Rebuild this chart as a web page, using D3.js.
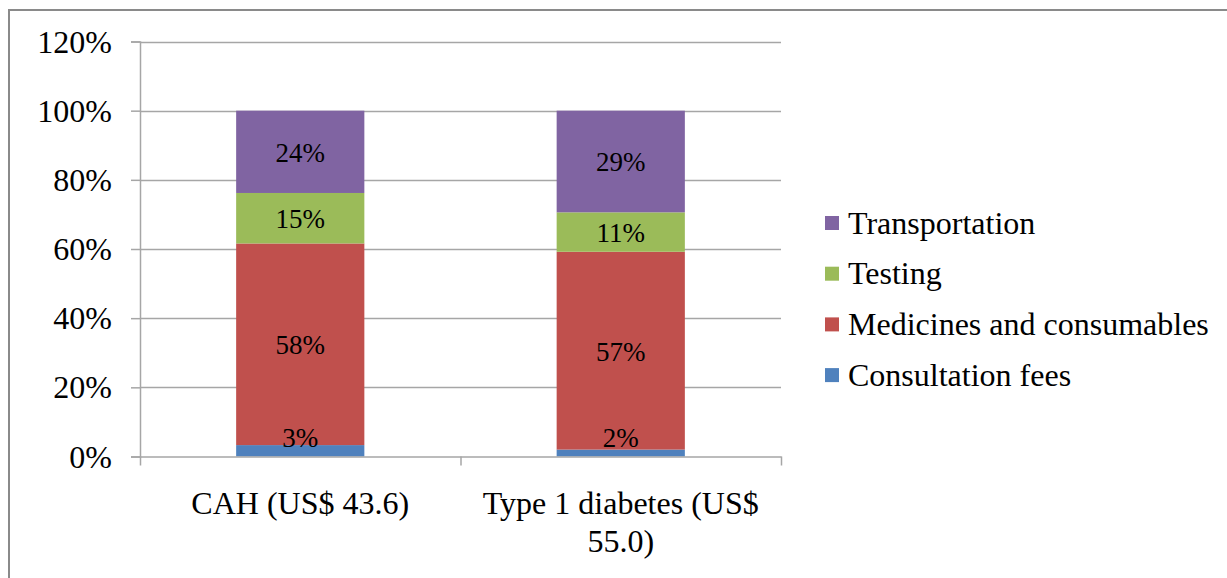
<!DOCTYPE html>
<html>
<head>
<meta charset="utf-8">
<script src="https://cdn.jsdelivr.net/npm/d3@7"></script>
<style>
  html, body { margin: 0; padding: 0; background: #fff; }
  svg { display: block; }
</style>
</head>
<body>
<svg id="chart" width="1227" height="578"></svg>
<script>
// Cost categories, bottom of the stack first
const seriesNames = ["Consultation fees", "Medicines and consumables", "Testing", "Transportation"];
const seriesColors = ["#4F81BD", "#C0504D", "#9BBB59", "#8064A2"];

// Conditions on the x axis (label lines)
const categories = ["CAH", "Type 1"];
const categoryLabels = [["CAH (US$ 43.6)"], ["Type 1 diabetes (US$", "55.0)"]];

// Share of total cost, percent
const consultation = [3.3, 2.0];
const medicines    = [58.3, 57.2];
const testing      = [14.6, 11.4];
const transport    = [23.8, 29.4];

const yTicks = [0, 20, 40, 60, 80, 100, 120];

const FONT = "Liberation Serif";
const svg = d3.select("#chart").attr("font-family", FONT);

// outer frame
svg.append("rect")
  .attr("x", 9).attr("y", 10)
  .attr("width", 1240).attr("height", 600)
  .attr("fill", "none")
  .attr("stroke", "#8a8a8a")
  .attr("stroke-width", 2);

const plot = { left: 140, right: 781, top: 41.5, bottom: 456.5 };

const x = d3.scaleBand()
  .domain(categories)
  .range([plot.left, plot.right])
  .paddingInner(0.6)
  .paddingOuter(0.3);

const y = d3.scaleLinear()
  .domain([0, 120])
  .range([plot.bottom, plot.top]);

// horizontal gridlines
svg.append("g")
  .selectAll("line")
  .data(yTicks.filter(d => d > 0))
  .join("line")
  .attr("x1", plot.left).attr("x2", plot.right)
  .attr("y1", d => Math.round(y(d)) + 0.5)
  .attr("y2", d => Math.round(y(d)) + 0.5)
  .attr("stroke", "#a6a6a6")
  .attr("stroke-width", 1.5);

// stacked bars
const rows = categories.map((c, i) => ({
  cat: c,
  "Consultation fees": consultation[i],
  "Medicines and consumables": medicines[i],
  "Testing": testing[i],
  "Transportation": transport[i]
}));
const stack = d3.stack().keys(seriesNames)(rows);

const layers = svg.append("g")
  .selectAll("g")
  .data(stack)
  .join("g")
  .attr("fill", (d, i) => seriesColors[i]);

layers.selectAll("rect")
  .data(d => d)
  .join("rect")
  .attr("x", d => x(d.data.cat))
  .attr("width", x.bandwidth())
  .attr("y", d => y(d[1]))
  .attr("height", d => y(d[0]) - y(d[1]));

// segment value labels
const labelG = svg.append("g")
  .attr("font-family", FONT)
  .attr("font-size", 27)
  .attr("fill", "#000")
  .attr("text-anchor", "middle");

stack.forEach(layer => {
  layer.forEach(d => {
    const v = d[1] - d[0];
    const mid = (y(d[0]) + y(d[1])) / 2;
    const cy = Math.min(mid + 1, plot.bottom - 18);
    labelG.append("text")
      .attr("font-family", FONT)
      .attr("x", x(d.data.cat) + x.bandwidth() / 2)
      .attr("y", cy)
      .attr("dy", "0.33em")
      .text(Math.round(v) + "%");
  });
});

// y axis
const yAxis = svg.append("g")
  .attr("transform", `translate(${plot.left},0)`)
  .call(d3.axisLeft(y)
    .tickValues(yTicks)
    .tickSize(9)
    .tickPadding(19)
    .tickFormat(d => d + "%"));
yAxis.attr("font-family", FONT);
yAxis.selectAll("path, line").attr("stroke", "#a6a6a6").attr("stroke-width", 1.5);
yAxis.selectAll("text")
  .attr("font-family", FONT)
  .attr("font-size", 32)
  .attr("dy", "0.33em")
  .attr("fill", "#000");

// x axis with ticks on category boundaries
const xEdge = d3.scaleLinear().domain([0, categories.length]).range([plot.left, plot.right]);
const xAxis = svg.append("g")
  .attr("transform", `translate(0,${plot.bottom})`)
  .call(d3.axisBottom(xEdge)
    .tickValues(d3.range(categories.length + 1))
    .tickSize(9)
    .tickSizeOuter(0)
    .tickFormat(""));
xAxis.selectAll("path, line").attr("stroke", "#a6a6a6").attr("stroke-width", 1.5);

// category labels
const catG = svg.append("g")
  .attr("font-family", FONT)
  .attr("font-size", 32)
  .attr("fill", "#000")
  .attr("text-anchor", "middle");
categories.forEach((c, i) => {
  const t = catG.append("text")
    .attr("font-family", FONT)
    .attr("x", x(c) + x.bandwidth() / 2)
    .attr("y", 514);
  categoryLabels[i].forEach((line, j) => {
    t.append("tspan")
      .attr("x", x(c) + x.bandwidth() / 2)
      .attr("dy", j === 0 ? 0 : 38)
      .text(line);
  });
});

// legend, top of stack first
const legendOrder = seriesNames.map((n, i) => ({ name: n, color: seriesColors[i] })).reverse();
const legend = svg.append("g").attr("transform", "translate(825,223)");
const items = legend.selectAll("g")
  .data(legendOrder)
  .join("g")
  .attr("transform", (d, i) => `translate(0,${i * 50.7})`);
items.append("rect")
  .attr("x", 0).attr("y", -7)
  .attr("width", 14).attr("height", 14)
  .attr("fill", d => d.color);
items.append("text")
  .attr("font-family", FONT)
  .attr("x", 23)
  .attr("y", 0)
  .attr("dy", "0.33em")
  .attr("font-size", 32)
  .attr("fill", "#000")
  .text(d => d.name);
</script>
</body>
</html>
